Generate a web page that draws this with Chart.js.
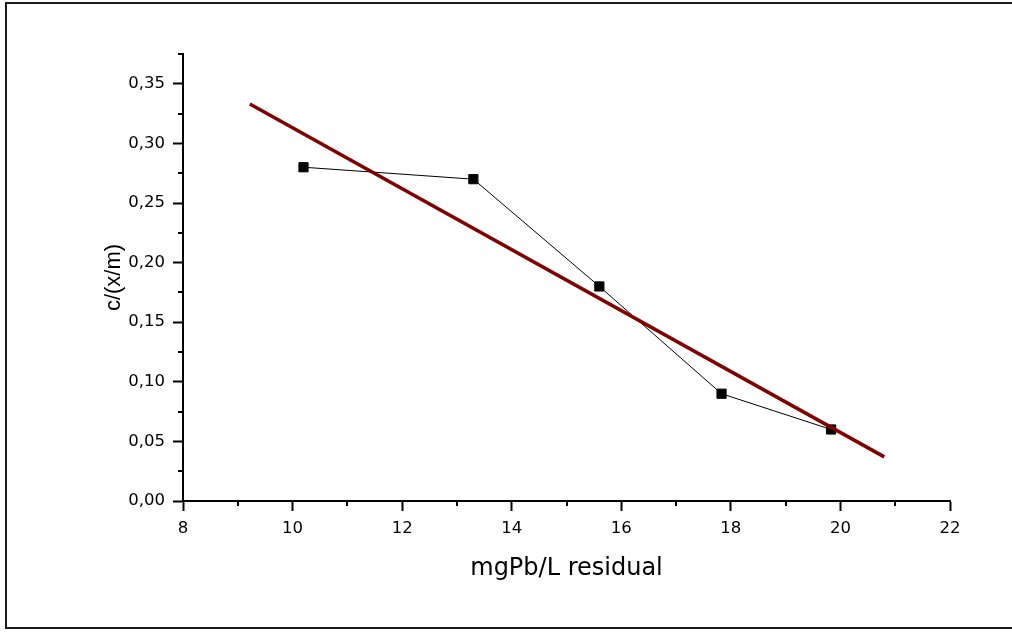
<!DOCTYPE html>
<html>
<head>
<meta charset="utf-8">
<script src="https://cdn.jsdelivr.net/npm/chart.js@4"></script>
<style>
  html, body { margin: 0; padding: 0; background: #fff; overflow: hidden; }
  #wrap { position: relative; width: 1012px; height: 633px; }
  #frame { position: absolute; left: 5px; top: 2px; width: 1040px; height: 627px; border: 2px solid #1a1a1a; box-sizing: border-box; }
  canvas { position: absolute; left: 0; top: 0; }
</style>
</head>
<body>
<div id="wrap">
  <div id="frame"></div>
  <canvas id="chart" width="1012" height="633"></canvas>
</div>
<script>
'use strict';

/* --------------------------------------------------------------------------
   DATA
   -------------------------------------------------------------------------- */
const ptX = [10.2, 13.3, 15.6, 17.83, 19.83];
const ptY = [0.28, 0.27, 0.18, 0.09, 0.06];
const fitX = [9.22, 20.8];
const fitY = [0.333, 0.037];

const X_MIN = 8, X_MAX = 22, X_STEP = 1, X_MAJOR = 2;
const Y_MIN = 0, Y_MAX = 0.375, Y_STEP = 0.025, Y_MAJOR = 0.05;

const X_TITLE = 'mgPb/L residual';
const Y_TITLE = 'c/(x/m)';

/* --------------------------------------------------------------------------
   HELPERS
   -------------------------------------------------------------------------- */
const isMajor = (v, major) => Math.abs(v / major - Math.round(v / major)) < 1e-6;
const fmtComma = v => v.toFixed(2).replace('.', ',');
const WIDE = '"DejaVu Sans", Verdana, sans-serif';

// short minor ticks, drawn from the scale's own tick positions
const minorTicks = {
    id: 'minorTicks',
    afterDraw(chart) {
        const ctx = chart.ctx;
        const xs = chart.scales.x, ys = chart.scales.y;
        ctx.save();
        ctx.strokeStyle = '#000';
        ctx.lineWidth = 2;
        ctx.beginPath();
        xs.ticks.forEach(t => {
            if (isMajor(t.value, X_MAJOR)) return;
            const px = Math.round(xs.getPixelForValue(t.value));
            ctx.moveTo(px, xs.top);
            ctx.lineTo(px, xs.top + 5);
        });
        ys.ticks.forEach(t => {
            if (isMajor(t.value, Y_MAJOR)) return;
            const py = Math.round(ys.getPixelForValue(t.value));
            ctx.moveTo(ys.right, py);
            ctx.lineTo(ys.right - 5, py);
        });
        ctx.stroke();
        ctx.restore();
    },
};

Chart.defaults.font.family = '"Liberation Sans", Arial, sans-serif';
Chart.defaults.color = '#000';

/* --------------------------------------------------------------------------
   CHART
   -------------------------------------------------------------------------- */
const ctx = document.getElementById('chart').getContext('2d');
new Chart(ctx, {
    type: 'scatter',
    data: {
        datasets: [
            {
                label: 'data',
                data: ptX.map((x, i) => ({ x, y: ptY[i] })),
                showLine: true,
                borderColor: '#000',
                borderWidth: 1,
                backgroundColor: '#000',
                pointStyle: 'rect',
                pointRadius: 6.5,
                pointBorderWidth: 1,
                pointBorderColor: '#000',
                pointBackgroundColor: '#000',
                order: 2,
            },
            {
                label: 'fit',
                data: fitX.map((x, i) => ({ x, y: fitY[i] })),
                showLine: true,
                borderColor: '#800000',
                borderWidth: 3.5,
                pointRadius: 0,
                order: 1,
            },
        ],
    },
    options: {
        responsive: false,
        animation: false,
        layout: { padding: { left: 92, right: 62, top: 54, bottom: 40 } },
        plugins: {
            legend: { display: false },
            tooltip: { enabled: false },
        },
        scales: {
            x: {
                type: 'linear', min: X_MIN, max: X_MAX,
                afterFit: s => { s.height = 92; },
                border: { display: true, color: '#000', width: 2 },
                grid: {
                    drawOnChartArea: false, drawTicks: true, tickLength: 10, tickWidth: 2,
                    tickColor: c => (c.tick && isMajor(c.tick.value, X_MAJOR)) ? '#000' : 'rgba(0,0,0,0)',
                },
                ticks: {
                    stepSize: X_STEP, autoSkip: false, maxRotation: 0, padding: 8,
                    font: { size: 16.5, family: WIDE }, color: '#000',
                    callback: v => isMajor(v, X_MAJOR) ? String(Math.round(v)) : '',
                },
                title: { display: true, text: X_TITLE, font: { size: 24, family: WIDE }, color: '#000', padding: { top: 0, bottom: 10 } },
            },
            y: {
                type: 'linear', min: Y_MIN, max: Y_MAX,
                afterFit: s => { s.width = 183 - 92; },
                border: { display: true, color: '#000', width: 2 },
                grid: {
                    drawOnChartArea: false, drawTicks: true, tickLength: 10, tickWidth: 2,
                    tickColor: c => (c.tick && isMajor(c.tick.value, Y_MAJOR)) ? '#000' : 'rgba(0,0,0,0)',
                },
                ticks: {
                    stepSize: Y_STEP, autoSkip: false, padding: 8,
                    font: { size: 16.5, family: WIDE }, color: '#000',
                    callback: v => isMajor(v, Y_MAJOR) ? fmtComma(v) : '',
                },
                title: { display: true, text: Y_TITLE, font: { size: 22 }, color: '#000', padding: { top: 9, bottom: 0 } },
            },
        },
    },
    plugins: [minorTicks],
});
</script>
</body>
</html>
